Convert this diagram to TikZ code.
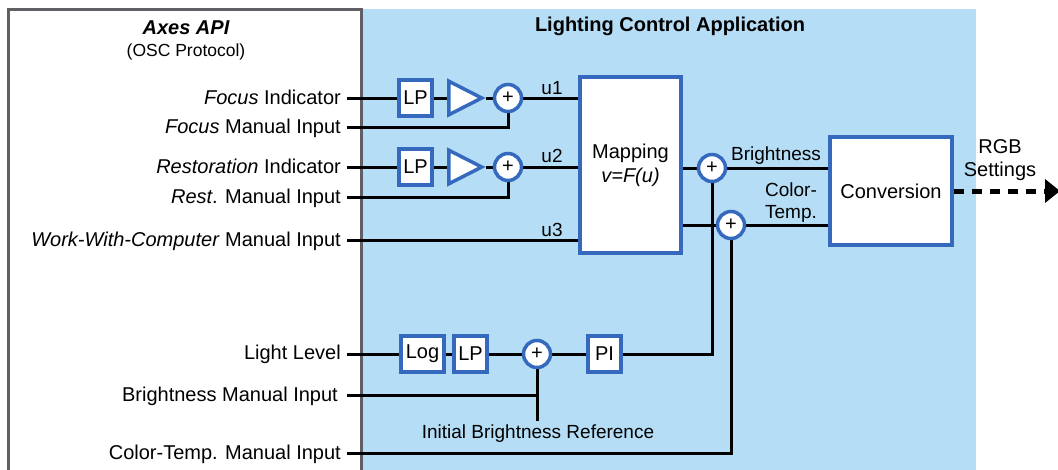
\documentclass[tikz,border=0pt]{standalone}
\usepackage{fontspec}
\setmainfont{Liberation Sans}
\usetikzlibrary{shapes.geometric,arrows.meta}
\definecolor{bgblue}{RGB}{181,221,245}
\definecolor{boxblue}{RGB}{52,105,190}
\definecolor{framegray}{RGB}{95,95,100}
\newcommand{\fsz}[2]{\fontsize{#1}{#2}\selectfont}
\pgfdeclarelayer{bg}
\pgfsetlayers{bg,main}
\tikzset{
  blk/.style={draw=boxblue, line width=4pt, fill=white, inner sep=0pt},
  sqbox/.style={blk, minimum width=33pt, minimum height=36pt, font=\fsz{20}{24}},
  sumnode/.style={circle, draw=boxblue, line width=3.5pt, fill=white, minimum size=27pt, inner sep=0pt, font=\fsz{20}{22}},
  tri/.style={isosceles triangle, isosceles triangle apex angle=54, shape border rotate=0, draw=boxblue, line width=3.5pt, fill=white, inner sep=0pt, minimum height=33pt, minimum width=33pt, line join=miter, anchor=lower side},
  wire/.style={line width=3pt, black},
  lbl/.style={anchor=base east, inner sep=0pt, font=\fsz{20}{24}},
  inlbl/.style={anchor=base, inner sep=0pt, font=\fsz{19}{22}},
}
\begin{document}
\begin{tikzpicture}[x=1pt,y=-1pt]
\useasboundingbox (0,0) rectangle (1058,469);

% blocks
\node[sqbox] (lp1) at (415.5,98) {LP};
\node[tri] (t1) at (447,98) {};
\node[sumnode] (s1) at (508,98) {+};
\node[sqbox] (lp2) at (415.5,167) {LP};
\node[tri] (t2) at (447,167) {};
\node[sumnode] (s2) at (508,167) {+};
\node[blk, minimum width=101pt, minimum height=176pt, align=center, font=\fsz{20}{24}] (map) at (630.5,165) {Mapping\\\textit{v=F(u)}};
\node[sumnode] (sb) at (712,168) {+};
\node[sumnode] (sc) at (731,225) {+};
\node[blk, minimum width=122pt, minimum height=108pt, font=\fsz{20}{24}] (conv) at (891,191) {Conversion};
\node[sqbox, minimum width=43pt] (log) at (422.5,354) {Log};
\node[sqbox] (lp3) at (470.5,354) {LP};
\node[sumnode] (s5) at (537,354) {+};
\node[sqbox] (pi) at (604.5,354) {PI};

% titles
\node[anchor=base, inner sep=0pt, font=\fsz{20}{24}\bfseries\itshape] (axt) at (186,34) {Axes API};
\node[anchor=base, inner sep=0pt, font=\fsz{17.5}{21}] (osc) at (186,56.5) {(OSC Protocol)};
\node[anchor=base, inner sep=0pt, font=\fsz{20}{24}\bfseries] (lca) at (670,31) {Lighting Control Application};

% left labels
\node[lbl] (l1) at (341,104.5) {\textit{Focus} Indicator};
\node[lbl] (l2) at (341,133.5) {\textit{Focus} Manual Input};
\node[lbl] (l3) at (341,173.5) {\textit{Restoration} Indicator};
\node[lbl] (l4) at (341,203.5) {\textit{Rest}. Manual Input};
\node[lbl] (l5) at (341,246.5) {\textit{Work-With-Computer} Manual Input};
\node[lbl] (l6) at (341,359.5) {Light Level};
\node[lbl] (l7) at (338,401.5) {Brightness Manual Input};
\node[lbl] (l8) at (341,459.5) {Color-Temp. Manual Input};

% inner labels
\node[inlbl] (u1) at (552,94) {u1};
\node[inlbl] (u2) at (552,162) {u2};
\node[inlbl] (u3) at (552,236) {u3};
\node[inlbl] (bl) at (776,160) {Brightness};
\node[inner sep=0pt, align=center, font=\fsz{19}{22}] (ctl) at (791,203) {Color-\\Temp.};
\node[inlbl] (ibrl) at (538,438) {Initial Brightness Reference};
\node[inner sep=0pt, align=center, font=\fsz{20}{23}] (rgb) at (1000,160) {RGB\\Settings};

% coordinates
\coordinate (i1) at (347,98);
\coordinate (i2) at (347,127);
\coordinate (i3) at (347,167);
\coordinate (i4) at (347,197);
\coordinate (i5) at (347,240);
\coordinate (i6) at (347,354);
\coordinate (i7) at (347,395);
\coordinate (i8) at (347,453);
\coordinate (ibr) at (537,421);
\coordinate (rgbend) at (1060,191);

\begin{pgfonlayer}{bg}
\fill[bgblue] (361,9) rectangle (976,480);
\draw[framegray, line width=3pt] (8,480) -- (8,9) -- (361,9) -- (361,480);
% rows 1,2
\draw[wire] (i1) -- (lp1.west);
\draw[wire] (lp1.east) -- (t1.lower side);
\draw[wire] (t1.apex) -- (s1.west);
\draw[wire] (s1.east) -- (s1.east -| map.west);
\draw[wire] (i2) -| (s1.south);
\draw[wire] (i3) -- (lp2.west);
\draw[wire] (lp2.east) -- (t2.lower side);
\draw[wire] (t2.apex) -- (s2.west);
\draw[wire] (s2.east) -- (s2.east -| map.west);
\draw[wire] (i4) -| (s2.south);
\draw[wire] (i5) -- (i5 -| map.west);
% outputs
\draw[wire] (map.east |- sb) -- (sb.west);
\draw[wire] (sb.east) -- (sb -| conv.west);
\draw[wire] (map.east |- sc) -- (sc.west);
\draw[wire] (sc.east) -- (sc -| conv.west);
% light loop
\draw[wire] (i6) -- (log.west);
\draw[wire] (log.east) -- (lp3.west);
\draw[wire] (lp3.east) -- (s5.west);
\draw[wire] (s5.east) -- (pi.west);
\draw[wire] (pi.east) -| (sb.south);
\draw[wire] (i7) -- (i7 -| s5.south);
\draw[wire] (s5.south) -- (ibr);
\draw[wire] (i8) -| (sc.south);
\end{pgfonlayer}
\draw[line width=5pt, dash pattern=on 10pt off 8pt, -{Triangle[length=15pt,width=23pt]}] (conv.east) -- (rgbend);
\end{tikzpicture}
\end{document}
